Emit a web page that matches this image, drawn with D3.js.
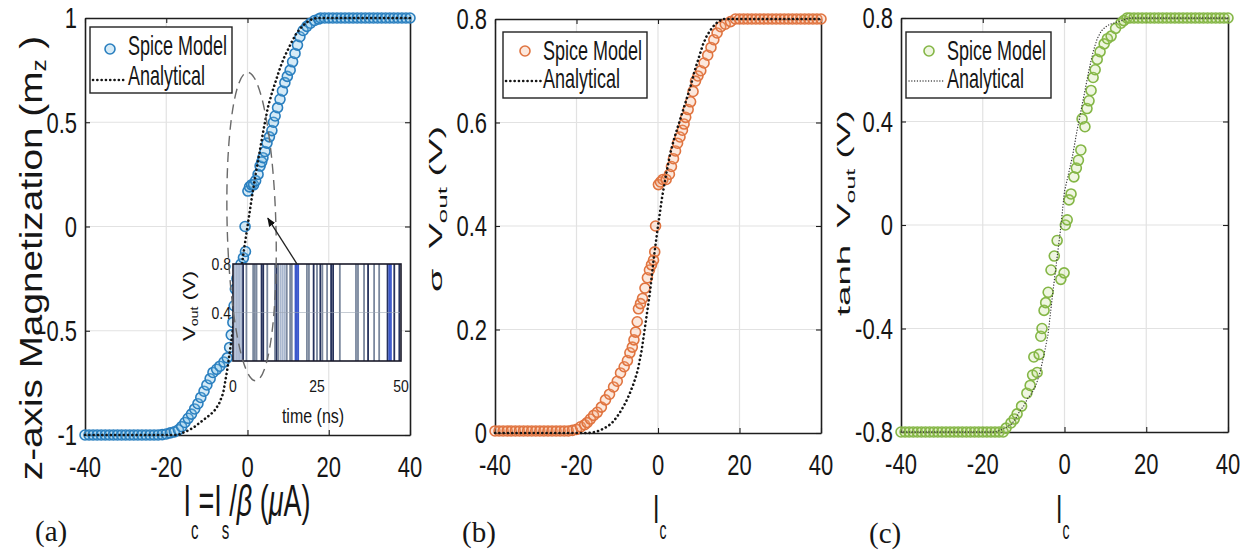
<!DOCTYPE html>
<html><head><meta charset="utf-8">
<script src="https://cdnjs.cloudflare.com/ajax/libs/d3/7.8.5/d3.min.js"></script>
<style>
body{margin:0;background:#fff}
svg{display:block}
text{font-family:"Liberation Sans",Arial,sans-serif;fill:#161616}
</style>
</head><body>
<svg id="chart" width="1254" height="558"></svg>
<script>
// ---------------- DATA ----------------
const xTicks = [-40, -20, 0, 20, 40];
const xTickLabels = ["-40", "-20", "0", "20", "40"];
const aYTicks = [-1, -0.5, 0, 0.5, 1];
const aYTickLabels = ["-1", "-0.5", "0", "0.5", "1"];
const bYTicks = [0, 0.2, 0.4, 0.6, 0.8];
const bYTickLabels = ["0", "0.2", "0.4", "0.6", "0.8"];
const cYTicks = [-0.8, -0.4, 0, 0.4, 0.8];
const cYTickLabels = ["-0.8", "-0.4", "0", "0.4", "0.8"];
const seriesNames = ["Spice Model", "Analytical"];

// (a) z-axis magnetization, Spice model points [Ic, mz]
const spiceA = [
 [-40,-1],[-39,-1],[-38,-1],[-37,-1],[-36,-1],[-35,-1],[-34,-1],[-33,-1],[-32,-1],[-31,-1],
 [-30,-1],[-29,-1],[-28,-1],[-27,-1],[-26,-1],[-25,-1],[-24,-1],[-23,-1],[-22,-1],[-21,-0.998],
 [-20,-0.995],[-19,-0.99],[-18,-0.985],[-17,-0.975],[-16.2,-0.96],[-15.4,-0.94],[-14.6,-0.92],
 [-13.8,-0.9],[-13,-0.875],[-12.2,-0.85],[-11.5,-0.82],[-10.7,-0.79],[-10,-0.76],[-9.2,-0.73],
 [-8.5,-0.7],[-7.6,-0.685],[-6.8,-0.67],[-5.8,-0.65],[-5,-0.63],[-4.4,-0.58],[-4,-0.52],
 [-3.6,-0.46],[-3.3,-0.38],[-3,-0.3],[-2.6,-0.25],[-2.2,-0.21],[-1.6,-0.18],[-1,-0.15],
 [-0.5,-0.12],[-0.6,0],[0.1,0.17],[0.5,0.19],[1,0.2],[1.5,0.2],[2,0.22],[2.6,0.25],[3.1,0.29],
 [3.5,0.31],[3.8,0.33],[4.3,0.36],[4.8,0.4],[5.4,0.43],[6,0.46],[6.4,0.5],[6.8,0.53],[7.4,0.57],
 [8,0.61],[8.6,0.65],[9.2,0.69],[9.8,0.72],[10.5,0.75],[11.1,0.79],[11.7,0.83],[12.3,0.87],
 [12.9,0.91],[13.7,0.94],[14.6,0.96],[15.5,0.975],[16.5,0.988],[17.5,0.995],[18,1],[19,1],
 [20,1],[21,1],[22,1],[23,1],[24,1],[25,1],[26,1],[27,1],[28,1],[29,1],[30,1],[31,1],[32,1],
 [33,1],[34,1],[35,1],[36,1],[37,1],[38,1],[39,1],[40,1]
];
const analyticA = [
 [-40,-1],[-17,-1],[-16,-0.99],[-15,-0.982],[-14,-0.972],[-13,-0.96],[-12,-0.945],[-11,-0.93],
 [-10,-0.915],[-9,-0.9],[-8,-0.88],[-7,-0.85],[-6,-0.8],[-5,-0.69],[-4,-0.55],[-3,-0.41],
 [-2,-0.27],[-1,-0.13],[0,0],[1,0.13],[2,0.25],[3,0.36],[4,0.47],[5,0.57],[6,0.64],[7,0.7],
 [8,0.76],[9,0.81],[10,0.85],[11,0.89],[12,0.925],[13,0.95],[14,0.97],[15,0.985],[16,0.995],
 [17,1],[40,1]
];

// (b) sigmoid Vout
const spiceB = [
 [-40,0.004],[-39,0.004],[-38,0.004],[-37,0.004],[-36,0.004],[-35,0.004],[-34,0.004],[-33,0.004],
 [-32,0.004],[-31,0.004],[-30,0.004],[-29,0.004],[-28,0.004],[-27,0.004],[-26,0.004],[-25,0.004],
 [-24,0.004],[-23,0.004],[-22,0.004],[-21,0.005],[-20,0.007],[-19,0.012],[-18,0.016],[-17.4,0.02],
 [-16.6,0.027],[-15.8,0.034],[-14.9,0.04],[-13.9,0.05],[-12.9,0.064],[-11.9,0.075],[-10.9,0.089],
 [-10,0.1],[-9.2,0.116],[-8.3,0.128],[-7.5,0.14],[-6.9,0.155],[-6.3,0.166],[-5.9,0.18],[-5.5,0.195],
 [-5.1,0.215],[-4.8,0.24],[-4.3,0.25],[-3.8,0.26],[-3.2,0.28],[-2.6,0.3],[-2.1,0.315],[-1.6,0.325],
 [-1.1,0.334],[-0.8,0.35],[-0.6,0.4],[0.1,0.48],[0.6,0.485],[1.2,0.49],[2,0.49],[2.8,0.5],
 [3.3,0.515],[3.8,0.53],[4.3,0.545],[4.8,0.56],[5.4,0.572],[6,0.585],[6.4,0.597],[6.8,0.61],
 [7.4,0.625],[8,0.64],[8.6,0.66],[9.2,0.68],[9.8,0.69],[10.5,0.7],[11.3,0.715],[12.2,0.73],
 [13,0.745],[13.7,0.76],[14.5,0.773],[15.4,0.785],[16.5,0.79],[17.8,0.795],[19,0.8],[20,0.8],
 [21,0.8],[22,0.8],[23,0.8],[24,0.8],[25,0.8],[26,0.8],[27,0.8],[28,0.8],[29,0.8],[30,0.8],
 [31,0.8],[32,0.8],[33,0.8],[34,0.8],[35,0.8],[36,0.8],[37,0.8],[38,0.8],[39,0.8],[40,0.8]
];
const analyticB = [
 [-40,0],[-17,0],[-16,0.001],[-15,0.003],[-14,0.006],[-13,0.01],[-12,0.015],[-11,0.022],
 [-10,0.032],[-9,0.044],[-8,0.058],[-7,0.075],[-6,0.095],[-5,0.12],[-4,0.16],[-3,0.215],
 [-2,0.27],[-1,0.34],[0,0.4],[1,0.455],[2,0.5],[3,0.54],[4,0.57],[5,0.595],[6,0.62],[7,0.645],
 [8,0.67],[9,0.7],[10,0.725],[11,0.75],[12,0.768],[13,0.78],[14,0.79],[15,0.796],[16,0.8],[40,0.8]
];

// (c) tanh Vout
const spiceC = [
 [-40,-0.8],[-39,-0.8],[-38,-0.8],[-37,-0.8],[-36,-0.8],[-35,-0.8],[-34,-0.8],[-33,-0.8],[-32,-0.8],
 [-31,-0.8],[-30,-0.8],[-29,-0.8],[-28,-0.8],[-27,-0.8],[-26,-0.8],[-25,-0.8],[-24,-0.8],[-23,-0.8],
 [-22,-0.8],[-21,-0.8],[-20,-0.8],[-19,-0.8],[-18,-0.8],[-17,-0.8],[-16,-0.8],[-15,-0.8],
 [-14.3,-0.785],[-13.1,-0.765],[-12.3,-0.75],[-11.6,-0.73],[-10.5,-0.7],[-9.2,-0.65],[-8.4,-0.62],
 [-7.8,-0.58],[-6.7,-0.57],[-7.5,-0.51],[-6.2,-0.5],[-5.8,-0.43],[-5.5,-0.4],[-5,-0.33],[-4.6,-0.3],
 [-4,-0.26],[-3.3,-0.174],[-2.5,-0.12],[-0.9,-0.21],[-0.1,-0.185],[-1.8,-0.06],[0.2,0],[0.66,0.02],
 [1.1,0.097],[1.6,0.12],[2.3,0.186],[2.9,0.22],[3.4,0.25],[4,0.29],[4.3,0.41],[5,0.38],[5.5,0.45],
 [6,0.48],[6.5,0.52],[7,0.57],[7.5,0.6],[8,0.64],[8.7,0.67],[9.7,0.7],[10.5,0.72],[11.4,0.73],
 [12.5,0.76],[13.8,0.78],[14.5,0.79],[15.3,0.8],[16,0.8],[17,0.8],[18,0.8],[19,0.8],[20,0.8],
 [21,0.8],[22,0.8],[23,0.8],[24,0.8],[25,0.8],[26,0.8],[27,0.8],[28,0.8],[29,0.8],[30,0.8],
 [31,0.8],[32,0.8],[33,0.8],[34,0.8],[35,0.8],[36,0.8],[37,0.8],[38,0.8],[39,0.8],[40,0.8]
];
const analyticC = [
 [-40,-0.8],[-17,-0.8],[-16,-0.795],[-15,-0.788],[-14,-0.78],[-13,-0.77],[-12,-0.75],[-11,-0.72],
 [-10,-0.7],[-9,-0.67],[-8,-0.65],[-7,-0.62],[-6,-0.57],[-5,-0.5],[-4,-0.42],[-3,-0.28],[-2,-0.15],
 [-1,-0.02],[0,0.13],[1,0.2],[2,0.27],[3,0.36],[4,0.44],[5,0.52],[6,0.6],[7,0.67],[8,0.72],
 [9,0.75],[10,0.765],[11,0.775],[12,0.78],[13,0.785],[14,0.79],[15,0.795],[16,0.8],[40,0.8]
];

// inset of (a): output voltage spikes vs time
const insetXTicks = [0, 25, 50];
const insetXTickLabels = ["0", "25", "50"];
const insetYTicks = [0.4, 0.8];
const insetYTickLabels = ["0.4", "0.8"];
const spikeTimes = [0.5,1,1.5,2,2.5,3,4,6,6.5,7,8.5,9,10.2,12.5,13,13.5,14.2,14.8,15.4,16,17,17.5,
  18.6,19,19.4,22,22.6,24,25,26,26.6,28,29.2,29.8,31.8,36.6,37.2,39,40.2,42,43.5,46,46.5,47,48,49.5];
const spikeShade = [0,0,0,0,0,2,1,1,1,1,2,2,1,1,2,1,0,0,0,1,1,1,
  3,3,3,1,1,2,1,2,1,1,2,2,1,1,1,1,2,1,1,2,3,3,2,2];
const spikeLow = 0, spikeHigh = 0.8;
// annotation (in axes units of panel a)
const ellipseCenter = [1, 0], ellipseHalf = [6, 0.74];
const arrowFrom = [12.2, -0.18], arrowTo = [5, 0.04];

// ---------------- DRAWING ----------------
const svg = d3.select("#chart");
const defs = svg.append("defs");
defs.append("marker").attr("id","ah").attr("viewBox","0 0 10 10").attr("refX",9).attr("refY",5)
  .attr("markerWidth",9).attr("markerHeight",9).attr("orient","auto-start-reverse")
  .attr("markerUnits","userSpaceOnUse")
  .append("path").attr("d","M0,1 L10,5 L0,9 Z").attr("fill","#111");

function stext(parent, x, y, o) {
  const g = parent.append("g").attr("transform",
    `translate(${x},${y}) scale(1,${o.sy||1})` + (o.rot ? " rotate(-90)" : ""));
  const t = g.append("text").attr("text-anchor", o.anchor || "start")
    .attr("font-size", o.size).attr("dy", o.dy || 0);
  if (o.family) t.style("font-family", o.family);
  (o.parts || [{t: o.text}]).forEach(p => {
    const ts = t.append("tspan").text(p.t);
    if (p.size) ts.attr("font-size", p.size);
    if (p.dy !== undefined) ts.attr("dy", p.dy);
    if (p.dx !== undefined) ts.attr("dx", p.dx);
    if (p.italic) ts.attr("font-style", "italic");
  });
  return t;
}

function drawPanel(cfg) {
  const {l, r, t, b} = cfg.box;
  const g = svg.append("g");
  const x = d3.scaleLinear().domain([-40, 40]).range([l, r]);
  const y = d3.scaleLinear().domain(cfg.yDomain).range([b, t]);
  // grid
  g.append("g").selectAll("line").data(xTicks.slice(1, -1)).join("line")
    .attr("x1", d => x(d)).attr("x2", d => x(d)).attr("y1", t).attr("y2", b)
    .attr("stroke", "#e2e2e2").attr("stroke-width", 1.2);
  g.append("g").selectAll("line").data(cfg.yTicks.slice(1, -1)).join("line")
    .attr("y1", d => y(d)).attr("y2", d => y(d)).attr("x1", l).attr("x2", r)
    .attr("stroke", "#e2e2e2").attr("stroke-width", 1.2);
  // axes box with inward ticks
  const axStyle = sel => { sel.selectAll("path").attr("stroke", "#1e1e1e").attr("stroke-width", 1.6);
    sel.selectAll("line").attr("stroke", "#1e1e1e").attr("stroke-width", 1.1); };
  g.append("g").attr("transform", `translate(0,${b})`)
    .call(d3.axisBottom(x).tickValues(xTicks).tickSizeInner(-5).tickSizeOuter(0).tickFormat("")).call(axStyle);
  g.append("g").attr("transform", `translate(0,${t})`)
    .call(d3.axisTop(x).tickValues(xTicks).tickSizeInner(-5).tickSizeOuter(0).tickFormat("")).call(axStyle);
  g.append("g").attr("transform", `translate(${l},0)`)
    .call(d3.axisLeft(y).tickValues(cfg.yTicks).tickSizeInner(-5).tickSizeOuter(0).tickFormat("")).call(axStyle);
  g.append("g").attr("transform", `translate(${r},0)`)
    .call(d3.axisRight(y).tickValues(cfg.yTicks).tickSizeInner(-5).tickSizeOuter(0).tickFormat("")).call(axStyle);
  // tick labels
  xTicks.forEach((d, i) => stext(g, x(d), b + 42, {sy: 1.3, size: 22, anchor: "middle", text: xTickLabels[i]}));
  cfg.yTicks.forEach((d, i) => stext(g, l - 8, y(d), {sy: 1.3, size: 22, anchor: "end", dy: "0.36em", text: cfg.yTickLabels[i]}));
  // spice markers
  g.append("g").selectAll("circle").data(cfg.spice).join("circle")
    .attr("cx", d => x(d[0])).attr("cy", d => y(d[1])).attr("r", 5)
    .attr("fill", cfg.fill).attr("stroke", cfg.color).attr("stroke-width", 1.6);
  // analytical dotted
  const line = d3.line().x(d => x(d[0])).y(d => y(d[1]));
  g.append("path").datum(cfg.analytic).attr("d", line).attr("fill", "none")
    .attr("stroke", cfg.dot.color).attr("stroke-width", cfg.dot.w)
    .attr("stroke-dasharray", cfg.dot.dash).attr("stroke-linecap", "round");
  return {g, x, y};
}

function drawLegend(cfg, L) {
  const g = svg.append("g");
  g.append("rect").attr("x", L.x0).attr("y", L.y0).attr("width", L.x1 - L.x0).attr("height", L.y1 - L.y0)
    .attr("fill", "#fff").attr("stroke", "#222").attr("stroke-width", 1.4);
  g.append("circle").attr("cx", L.mx).attr("cy", L.my).attr("r", 5)
    .attr("fill", cfg.fill).attr("stroke", cfg.color).attr("stroke-width", 1.6);
  g.append("line").attr("x1", L.lx0).attr("x2", L.lx1).attr("y1", L.ly).attr("y2", L.ly)
    .attr("stroke", cfg.dot.color).attr("stroke-width", cfg.dot.w)
    .attr("stroke-dasharray", cfg.dot.dash).attr("stroke-linecap", "round");
  stext(g, L.tx, L.ty1, {sy: 1.5, size: 18, text: seriesNames[0]});
  stext(g, L.tx, L.ty2, {sy: 1.5, size: 18, text: seriesNames[1]});
}

const dotHeavy = {color: "#151515", w: 2.6, dash: "0.1 4.2"};
const dotLight = {color: "#3a3a3a", w: 1.3, dash: "0.1 2.7"};

const cfgA = {box: {l: 85, r: 410, t: 18, b: 435}, yDomain: [-1, 1], yTicks: aYTicks, yTickLabels: aYTickLabels,
  spice: spiceA, analytic: analyticA, color: "#2a7fbf", fill: "rgba(120,190,228,0.30)", dot: dotHeavy};
const cfgB = {box: {l: 495, r: 821, t: 19, b: 433}, yDomain: [0, 0.8], yTicks: bYTicks, yTickLabels: bYTickLabels,
  spice: spiceB, analytic: analyticB, color: "#e07440", fill: "rgba(244,165,120,0.25)", dot: dotHeavy};
const cfgC = {box: {l: 901, r: 1228, t: 18, b: 432}, yDomain: [-0.8, 0.8], yTicks: cYTicks, yTickLabels: cYTickLabels,
  spice: spiceC, analytic: analyticC, color: "#84b646", fill: "rgba(180,215,120,0.22)", dot: dotLight};

const pA = drawPanel(cfgA);
drawPanel(cfgB);
drawPanel(cfgC);

// ---- inset in panel (a)
(function () {
  const box = {l: 233, r: 401, t: 264, b: 361};
  const g = svg.append("g");
  const xs = d3.scaleLinear().domain([0, 50]).range([box.l, box.r]);
  const ys = d3.scaleLinear().domain([0, 0.8]).range([box.b, box.t]);
  g.append("rect").attr("x", box.l).attr("y", box.t).attr("width", box.r - box.l).attr("height", box.b - box.t).attr("fill", "#fff");
  const shades = ["#a9b7cf", "#7b889e", "#25315c", "#3b58cc"];
  g.append("g").selectAll("line").data(spikeTimes).join("line")
    .attr("x1", d => xs(d)).attr("x2", d => xs(d)).attr("y1", ys(spikeLow)).attr("y2", ys(spikeHigh))
    .attr("stroke", (d, i) => shades[spikeShade[i]]).attr("stroke-width", 1.8);
  g.append("line").attr("x1", box.l).attr("x2", box.r).attr("y1", ys(0.4)).attr("y2", ys(0.4))
    .attr("stroke", "#9aa4b4").attr("stroke-width", 0.8).attr("opacity", 0.7);
  g.append("rect").attr("x", box.l).attr("y", box.t).attr("width", box.r - box.l).attr("height", box.b - box.t)
    .attr("fill", "none").attr("stroke", "#1a1a2a").attr("stroke-width", 1.6);
  insetXTicks.forEach((d, i) => stext(g, xs(d), 392, {sy: 1.2, size: 14, anchor: "middle", text: insetXTickLabels[i]}));
  insetYTicks.forEach((d, i) => stext(g, box.l - 2, ys(d), {sy: 1.2, size: 14, anchor: "end", dy: "0.36em", text: insetYTickLabels[i]}));
  stext(g, 313, 423, {sy: 1.3, size: 16, anchor: "middle", text: "time (ns)"});
  stext(g, 195, 306, {sy: 1.3, size: 17, anchor: "middle", rot: true,
    parts: [{t: "V"}, {t: "out", size: 11, dy: 3}, {t: " (V)", dy: -3}]});
  // dashed ellipse and arrow (panel-a units)
  const cx = pA.x(ellipseCenter[0]), cy = pA.y(ellipseCenter[1]);
  svg.append("ellipse").attr("cx", cx).attr("cy", cy)
    .attr("rx", pA.x(ellipseCenter[0] + ellipseHalf[0]) - cx)
    .attr("ry", cy - pA.y(ellipseCenter[1] + ellipseHalf[1]))
    .attr("transform", `rotate(-1.5,${cx},${cy})`)
    .attr("fill", "none").attr("stroke", "#6a6a6a").attr("stroke-width", 1.4).attr("stroke-dasharray", "10 6");
  svg.append("line").attr("x1", pA.x(arrowFrom[0])).attr("y1", pA.y(arrowFrom[1]))
    .attr("x2", pA.x(arrowTo[0])).attr("y2", pA.y(arrowTo[1]))
    .attr("stroke", "#222").attr("stroke-width", 1.3).attr("marker-end", "url(#ah)");
})();

// legends
drawLegend(cfgA, {x0: 90, y0: 27, x1: 232, y1: 93, mx: 110, my: 49, lx0: 93, lx1: 127, ly: 80, tx: 128, ty1: 55, ty2: 85});
drawLegend(cfgB, {x0: 503, y0: 32, x1: 647, y1: 98, mx: 525, my: 51, lx0: 506, lx1: 541, ly: 81, tx: 543, ty1: 60, ty2: 88});
drawLegend(cfgC, {x0: 906, y0: 32, x1: 1051, y1: 98, mx: 929, my: 51, lx0: 909, lx1: 945, ly: 81, tx: 947, ty1: 60, ty2: 88});

// axis titles
stext(svg, 42, 258, {sy: 1.21, size: 32, anchor: "middle", rot: true,
  parts: [{t: "z-axis Magnetization (m"}, {t: "z", size: 20, dy: 4}, {t: " )", dy: -4}]});
stext(svg, 442, 209, {sy: 2.0, size: 19, anchor: "middle", rot: true,
  parts: [{t: "σ"}, {t: "V", dx: 10}, {t: "out", size: 13, dy: 5}, {t: " (V)", dy: -5}]});
stext(svg, 850, 213, {sy: 1.92, size: 19, anchor: "middle", rot: true,
  parts: [{t: "tanh"}, {t: "V", dx: 9}, {t: "out", size: 13, dy: 5}, {t: " (V)", dy: -5}]});

stext(svg, 247, 516, {sy: 1.66, size: 27, anchor: "middle",
  parts: [{t: "I"}, {t: "c", size: 15, dy: 14}, {t: "=I", dy: -14}, {t: "s", size: 15, dy: 14},
          {t: "/", dy: -14}, {t: "β", italic: true}, {t: " ("}, {t: "μ", italic: true}, {t: "A)"}]});
stext(svg, 653, 523, {sy: 1.8, size: 23, parts: [{t: "I"}, {t: "c", size: 14, dy: 9}]});
stext(svg, 1056, 523, {sy: 1.8, size: 23, parts: [{t: "I"}, {t: "c", size: 14, dy: 9}]});

const serif = '"Liberation Serif","Times New Roman",serif';
stext(svg, 35, 541, {size: 29, family: serif, text: "(a)"});
stext(svg, 462, 542, {size: 29, family: serif, text: "(b)"});
stext(svg, 869, 543, {size: 29, family: serif, text: "(c)"});
</script>
</body></html>
